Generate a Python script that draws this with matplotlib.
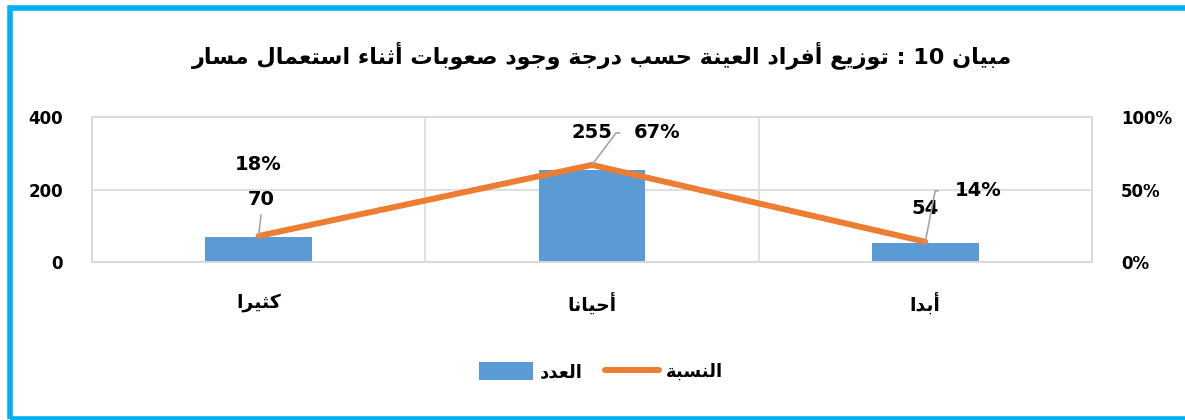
import re
import matplotlib as mpl
mpl.use("Agg")
import matplotlib.pyplot as plt
from matplotlib.patches import Rectangle

plt.rcParams["font.family"] = ["DejaVu Sans"]
plt.rcParams["font.weight"] = "bold"

title = "مبيان 10 : توزيع أفراد العينة حسب درجة وجود صعوبات أثناء استعمال مسار"
categories = ["كثيرا", "أحيانا", "أبدا"]
counts = [70, 255, 54]
percents = [18, 67, 14]
count_name = "العدد"
pct_name = "النسبة"

# minimal arabic shaping (matplotlib has no shaping / bidi)
DUAL = {"ب": 0xFE8F, "ت": 0xFE95, "ث": 0xFE99, "ج": 0xFE9D, "ح": 0xFEA1,
        "س": 0xFEB1, "ص": 0xFEB9, "ع": 0xFEC9, "ف": 0xFED1, "ك": 0xFED9,
        "ل": 0xFEDD, "م": 0xFEE1, "ن": 0xFEE5, "ي": 0xFEF1}
RIGHT = {"أ": 0xFE83, "ا": 0xFE8D, "ة": 0xFE93, "د": 0xFEA9, "ر": 0xFEAD,
         "ز": 0xFEAF, "و": 0xFEED}


def ar(s):
    out = []
    for i, ch in enumerate(s):
        if ch in DUAL or ch in RIGHT:
            prev = s[i - 1] if i > 0 else ""
            nxt = s[i + 1] if i + 1 < len(s) else ""
            jp = prev in DUAL
            jn = ch in DUAL and (nxt in DUAL or nxt in RIGHT)
            if jp and jn:
                off = 3
            elif jn:
                off = 2
            elif jp:
                off = 1
            else:
                off = 0
            out.append(chr(DUAL.get(ch, RIGHT.get(ch)) + off))
        elif ch == "ء":
            out.append("\uFE80")
        else:
            out.append(ch)
    vis = "".join(out)[::-1]
    return re.sub(r"[0-9%]+", lambda m: m.group()[::-1], vis)


bar_c = "#5B9BD5"
line_c = "#ED7D31"
grid_c = "#D9D9D9"

fig = plt.figure(figsize=(11.85, 4.2), dpi=100)
ax = fig.add_axes([0.0776, 0.376, 0.8439, 0.3452])
ax2 = ax.twinx()

x = list(range(len(categories)))
bars = ax.bar(x, counts, width=0.32, color=bar_c, zorder=2)
ln, = ax2.plot(x, percents, color=line_c, lw=4.3, solid_capstyle="round",
               solid_joinstyle="round", zorder=3)

ax.set_xlim(-0.5, 2.5)
ax.set_ylim(0, 400)
ax2.set_ylim(0, 100)
ax.set_yticks([0, 200, 400])
ax2.set_yticks([0, 50, 100])
ax2.set_yticklabels(["0%", "50%", "100%"])
ax.set_xticks(x)
ax.set_xticklabels([ar(c) for c in categories], fontsize=13.5, fontweight="bold")
ax.set_xticks([0.5, 1.5], minor=True)
ax.grid(True, which="minor", axis="x", color=grid_c, lw=1.2, zorder=0)
ax.grid(True, which="major", axis="y", color=grid_c, lw=1.2, zorder=0)
ax.tick_params(axis="x", which="both", length=0, pad=22)
ax.tick_params(axis="y", length=0, pad=21, labelsize=12)
ax2.tick_params(axis="y", length=0, pad=21, labelsize=12)
for a in (ax, ax2):
    for s in a.spines.values():
        s.set_color(grid_c)
        s.set_linewidth(1.2)
    for t in a.get_yticklabels():
        t.set_fontweight("bold")
ax.set_zorder(1)
ax2.set_zorder(2)
ax2.patch.set_visible(False)

lead = dict(arrowstyle="-", color="#A6A6A6", lw=1.2, shrinkA=2, shrinkB=0)
lab = dict(fontsize=14, fontweight="bold", ha="center", va="center")

# left point
ax2.annotate(f"{percents[0]}%", xy=(0, percents[0]), xytext=(0, 71),
             textcoords="offset pixels", **lab)
ax2.annotate(str(counts[0]), xy=(0, percents[0]), xytext=(3, 36),
             textcoords="offset pixels", arrowprops=dict(lead, relpos=(0.5, 0)), **lab)
# middle point
ax2.annotate(str(counts[1]), xy=(1, percents[1]), xytext=(0, 32),
             textcoords="offset pixels", **lab)
ax2.annotate(f"{percents[1]}%", xy=(1, percents[1]), xytext=(65, 32),
             textcoords="offset pixels",
             arrowprops=dict(lead, relpos=(0, 0.5), shrinkA=8,
                             connectionstyle="angle,angleA=0,angleB=53,rad=0"), **lab)
# right point
ax2.annotate(str(counts[2]), xy=(2, percents[2]), xytext=(0, 33),
             textcoords="offset pixels", **lab)
ax2.annotate(f"{percents[2]}%", xy=(2, percents[2]), xytext=(53, 51),
             textcoords="offset pixels",
             arrowprops=dict(lead, relpos=(0, 0.5), shrinkA=10,
                             connectionstyle="angle,angleA=0,angleB=79,rad=0"), **lab)

fig.text(0.508, 0.87, ar(title), ha="center", va="center", fontsize=16, fontweight="bold")

fig.legend([bars, ln], [ar(count_name), ar(pct_name)], loc="center",
           bbox_to_anchor=(0.507, 0.115), ncol=2, frameon=False,
           prop=dict(size=13, weight="bold"), handlelength=3.0, handleheight=1.1,
           handletextpad=0.4, columnspacing=1.2)

fig.patches.append(Rectangle((0.0084, 0.0024), 1.0, 0.9797, transform=fig.transFigure,
                             fill=False, edgecolor="#00B0F0", lw=4))

fig.savefig("out.png", dpi=100)
